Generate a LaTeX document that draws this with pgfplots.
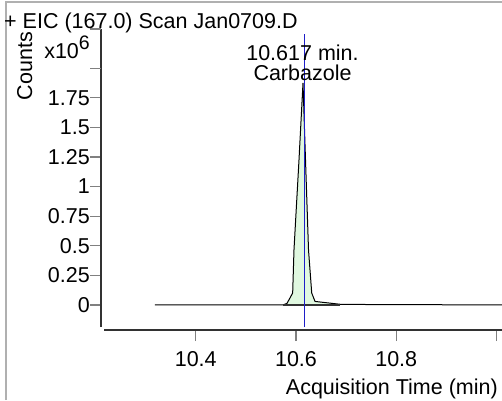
\documentclass[border=0pt]{standalone}
\usepackage{fontspec}
\setmainfont{Liberation Sans}
\usepackage{pgfplots}
\pgfplotsset{compat=1.18}
\definecolor{peakfill}{RGB}{224,248,224}
\definecolor{tickgray}{RGB}{128,128,128}
\definecolor{axisdark}{RGB}{50,50,50}
\definecolor{framegray}{RGB}{176,176,176}
\definecolor{rtblue}{RGB}{30,30,200}
\newcommand{\cf}{\fontsize{21.5}{24}\selectfont}
\begin{document}
\begin{tikzpicture}[font=\cf]
\useasboundingbox (0,0) rectangle (502pt,400pt);
\draw[framegray, line width=2pt] (5.5pt,0) -- (5.5pt,398pt) -- (502pt,398pt);
\begin{axis}[
  at={(101pt,73pt)}, anchor=south west,
  width=401pt, height=298pt, scale only axis,
  xmin=10.211, xmax=11.011, ymin=-0.186, ymax=2.331,
  axis x line*=bottom, axis y line*=left,
  x axis line style={draw=axisdark, line width=1.4pt, yshift=-3pt, shorten <=3pt},
  y axis line style={draw=axisdark, line width=1.4pt},
  tick align=outside, major tick length=11pt,
  xtick={10.4,10.6,10.8,11.0},
  xticklabels={10.4,10.6,10.8,{}},
  ytick={0,0.25,0.5,0.75,1,1.25,1.5,1.75},
  yticklabels={0,0.25,0.5,0.75,1,1.25,1.5,1.75},
  extra y ticks={2.0,2.331},
  extra y tick labels={,},
  xtick style={draw=tickgray, line width=1.3pt, yshift=-3pt},
  ytick style={draw=tickgray, line width=1.3pt},
  extra y tick style={ytick style={draw=tickgray, line width=1.3pt}},
  minor tick num=0,
  xticklabel style={font=\cf, anchor=base, inner sep=0pt, yshift=-28pt},
  yticklabel style={font=\cf, anchor=east, inner sep=0pt},
]
\addplot[fill=peakfill, draw=none] coordinates {
(10.5741,0) (10.5821,0.014) (10.5934,0.101) (10.5960,0.465) (10.6060,1.225)
(10.6140,1.875) (10.6190,1.225) (10.6250,0.465) (10.6314,0.101) (10.6380,0.030)
(10.6878,0.006)} \closedcycle;
\addplot[black, line width=1pt] coordinates {
(10.3187,0) (10.5741,0) (10.5821,0.014) (10.5934,0.101) (10.5960,0.465) (10.6060,1.225)
(10.6140,1.875) (10.6190,1.225) (10.6250,0.465) (10.6314,0.101) (10.6380,0.030)
(10.6878,0.006) (10.7676,0.003) (11.011,0.001)};
\addplot[axisdark, line width=2.5pt] coordinates {(10.5741,0) (10.6878,0)};
\addplot[rtblue, line width=1pt] coordinates {(10.617,-0.186) (10.617,2.289)};
\end{axis}
\node[anchor=base west, inner sep=0pt] at (4pt,371pt) {+ EIC (167.0) Scan Jan0709.D};
\node[anchor=base, inner sep=0pt, rotate=90] at (32pt,334pt) {Counts};
\node[anchor=base east, inner sep=0pt] at (90pt,342pt) {x10\raisebox{8pt}{\fontsize{19.5}{20}\selectfont 6}};
\node[anchor=base, inner sep=0pt] at (302.5pt,339.5pt) {10.617 min.};
\node[anchor=base, inner sep=0pt] at (302.5pt,320pt) {Carbazole};
\node[anchor=base east, inner sep=0pt] at (498pt,6pt) {Acquisition Time (min)};
\end{tikzpicture}
\end{document}
